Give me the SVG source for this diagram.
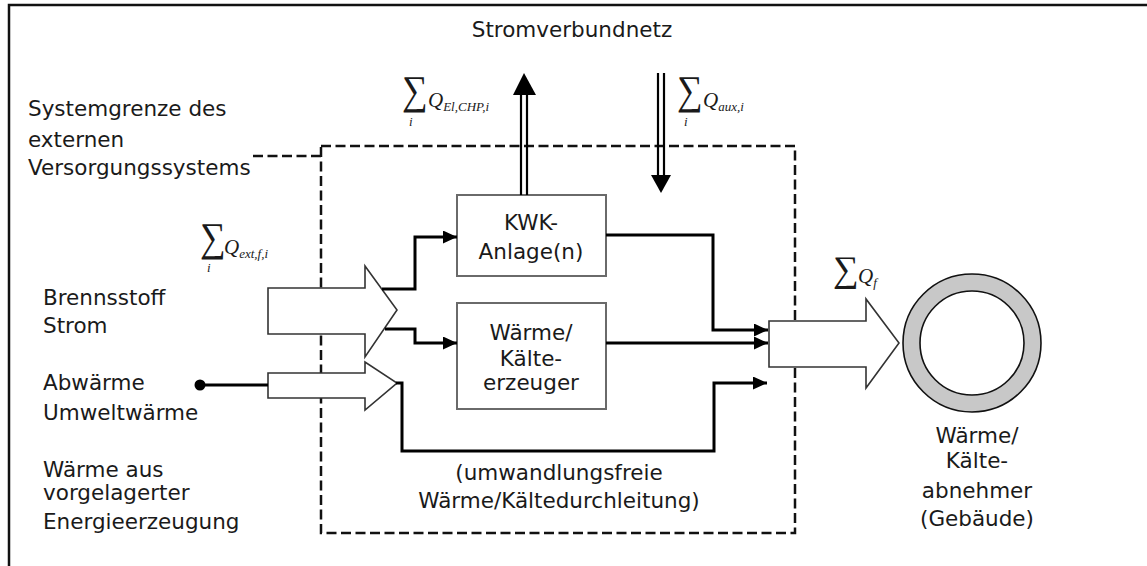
<svg xmlns="http://www.w3.org/2000/svg" width="1147" height="566" viewBox="0 0 1147 566">
<defs>
<style>
.lbl{font-family:"DejaVu Sans","Liberation Sans",sans-serif;font-size:21.5px;fill:#1a1a1a}
.mid{text-anchor:middle}
.math{font-family:"Liberation Serif","DejaVu Serif",serif;fill:#1a1a1a}
.sig{font-size:36px}
.q{font-size:21px;font-style:italic}
.sub{font-size:13px;font-style:italic}
.box{fill:#fff;stroke:#6a6a6a;stroke-width:2}
.hollow{fill:#fff;stroke:#333;stroke-width:1.6;stroke-linejoin:miter}
.flow{fill:none;stroke:#000;stroke-width:3}
.dash{fill:none;stroke:#111;stroke-width:2.5;stroke-dasharray:10 4.5}
.dbl{stroke:#000;stroke-width:2.2}
</style>
<marker id="ah" markerUnits="userSpaceOnUse" markerWidth="15" markerHeight="13" refX="14" refY="6.5" orient="auto">
<path d="M0,0 L14,6.5 L0,13 z" fill="#000"/>
</marker>
</defs>
<rect width="1147" height="566" fill="#fff"/>
<path d="M9,566 V5 H1147" fill="none" stroke="#111" stroke-width="2.5"/>

<g id="systemgrenze">
<rect class="dash" x="321" y="146" width="474" height="387"/>
<path class="dash" d="M253,156 H321"/>
<text class="lbl" x="28" y="116">Systemgrenze des</text>
<text class="lbl" x="28" y="147">externen</text>
<text class="lbl" x="28" y="175">Versorgungssystems</text>
</g>

<g id="stromnetz">
<text class="lbl mid" x="572" y="37">Stromverbundnetz</text>
</g>

<g id="inputs">
<polygon class="hollow" points="268,288 365,288 365,266 397,310 365,357 365,334 268,334"/>
<polygon class="hollow" points="268,373 365,373 365,362 397,383 365,410 365,398 268,398"/>
<text class="lbl" x="43" y="305">Brennsstoff</text>
<text class="lbl" x="43" y="333">Strom</text>
<text class="lbl" x="43" y="390">Abwärme</text>
<text class="lbl" x="43" y="420">Umweltwärme</text>
<text class="lbl" x="43" y="477">Wärme aus</text>
<text class="lbl" x="43" y="500">vorgelagerter</text>
<text class="lbl" x="43" y="529">Energieerzeugung</text>
<g class="math">
<text class="sig" transform="translate(200,251) scale(1,1.14)">∑</text>
<text class="sub" x="207" y="272">i</text>
<text class="q" x="224" y="254">Q<tspan class="sub" dy="4">ext,f,i</tspan></text>
</g>
</g>

<g id="kwk">
<rect class="box" x="457" y="195" width="149" height="81"/>
<text class="lbl mid" x="531" y="230">KWK-</text>
<text class="lbl mid" x="531" y="259">Anlage(n)</text>
</g>

<g id="erzeuger">
<rect class="box" x="457" y="303" width="149" height="106"/>
<text class="lbl mid" x="531" y="340">Wärme/</text>
<text class="lbl mid" x="531" y="366">Kälte-</text>
<text class="lbl mid" x="531" y="390">erzeuger</text>
</g>

<g id="durchleitung">
<text class="lbl mid" x="559" y="480">(umwandlungsfreie</text>
<text class="lbl mid" x="559" y="508">Wärme/Kältedurchleitung)</text>
</g>

<g id="output">
<polygon class="hollow" points="769,321 866,321 866,299 899,343 866,388 866,367 769,367"/>
<g class="math">
<text class="sig" x="833" y="281">∑</text>
<text class="q" x="858" y="283">Q<tspan class="sub" dy="4">f</tspan></text>
</g>
</g>

<g id="abnehmer">
<circle cx="972" cy="343" r="60.5" fill="none" stroke="#c8c8c8" stroke-width="17"/>
<circle cx="972" cy="343" r="69" fill="none" stroke="#111" stroke-width="1.6"/>
<circle cx="972" cy="343" r="52" fill="#fff" stroke="#111" stroke-width="1.6"/>
<text class="lbl mid" x="977" y="443">Wärme/</text>
<text class="lbl mid" x="977" y="468">Kälte-</text>
<text class="lbl mid" x="977" y="498">abnehmer</text>
<text class="lbl mid" x="977" y="526">(Gebäude)</text>
</g>

<g id="netz-flows">
<line class="dbl" x1="521" y1="95" x2="521" y2="195"/>
<line class="dbl" x1="527" y1="95" x2="527" y2="195"/>
<polygon points="513,95 536,95 524,73" fill="#000"/>
<line class="dbl" x1="658" y1="73" x2="658" y2="176"/>
<line class="dbl" x1="664" y1="73" x2="664" y2="176"/>
<polygon points="651,175 671,175 661,193" fill="#000"/>
<g class="math">
<text class="sig" transform="translate(402,104) scale(1,1.14)">∑</text>
<text class="sub" x="409" y="126">i</text>
<text class="q" x="428" y="107">Q<tspan class="sub" dy="4">El,CHP,i</tspan></text>
<text class="sig" transform="translate(677,104) scale(1,1.14)">∑</text>
<text class="sub" x="684" y="126">i</text>
<text class="q" x="703" y="107">Q<tspan class="sub" dy="4">aux,i</tspan></text>
</g>
</g>

<g id="connectors">
<path class="flow" d="M382,289 H415 V237 H457" marker-end="url(#ah)"/>
<path class="flow" d="M385,329 H415 V343 H457" marker-end="url(#ah)"/>
<path class="flow" d="M606,235 H713 V330 H768" marker-end="url(#ah)"/>
<path class="flow" d="M606,343 H768" marker-end="url(#ah)"/>
<path class="flow" d="M396,383 H402 V451 H714 V383 H767" marker-end="url(#ah)"/>
<path class="flow" d="M200,385 H268"/>
<circle cx="200" cy="385" r="5.5" fill="#000"/>
</g>
</svg>
